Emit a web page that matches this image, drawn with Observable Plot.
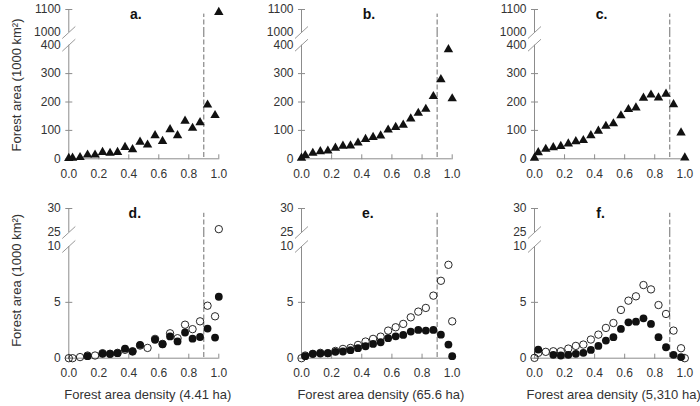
<!DOCTYPE html>
<html><head><meta charset="utf-8">
<script src="https://cdn.jsdelivr.net/npm/d3@7"></script>
<script src="https://cdn.jsdelivr.net/npm/@observablehq/plot@0.6"></script>
<style>
body{margin:0;background:#fff;}
#fig{position:relative;width:700px;height:406px;overflow:hidden;background:#fff;}
#fig svg{position:absolute;}
</style></head><body><div id="fig"></div>
<script>
// ---- data ----
const density = [0, 0.025, 0.075, 0.125, 0.175, 0.225, 0.275, 0.325, 0.375, 0.425, 0.475, 0.525, 0.575, 0.625, 0.675, 0.725, 0.775, 0.825, 0.875, 0.925, 0.975, 1.0];
const densityTicks = [0, 0.2, 0.4, 0.6, 0.8, 1.0];
const threshold = 0.9;

const areaA = [2, 3, 5, 14, 14, 23, 20, 23, 41, 33, 59, 49, 82, 62, 103, 82, 133, 108, 128, 190, 153, 1088];
const areaB = [3, 12, 20, 26, 28, 38, 45, 46, 56, 69, 76, 81, 102, 111, 119, 141, 161, 175, 220, 279, 385, 212];
const areaC = [3, 22, 34, 40, 44, 53, 61, 65, 82, 98, 115, 124, 152, 174, 180, 214, 225, 215, 228, 191, 92, 4];

const openD   = [0, 0, 0.1, 0.24, 0.24, 0.45, 0.4, 0.48, 0.75, 0.62, 1.13, 0.92, 1.73, 1.28, 2.23, 1.79, 3.0, 2.6, 3.3, 4.7, 3.75, 25.7];
const filledD = [null, null, null, 0.18, null, 0.4, 0.38, 0.45, 0.85, 0.6, 1.2, null, 1.65, 1.25, 1.95, 1.5, 2.3, 1.75, 1.9, 2.65, 1.85, 5.5];
const openE   = [0, 0.24, 0.39, 0.48, 0.45, 0.65, 0.83, 0.92, 1.19, 1.49, 1.73, 1.93, 2.47, 2.77, 3.07, 3.66, 4.17, 4.5, 5.6, 6.93, 8.36, 3.3];
const filledE = [null, 0.18, 0.39, 0.42, 0.45, 0.57, 0.6, 0.72, 0.9, 1.07, 1.28, 1.43, 1.79, 1.96, 2.08, 2.38, 2.53, 2.47, 2.53, 2.11, 1.22, 0.18];
const openF   = [0.03, 0.48, 0.57, 0.62, 0.62, 0.86, 1.1, 1.22, 1.67, 2.11, 2.71, 3.15, 4.32, 5.15, 5.54, 6.55, 6.16, 4.76, 3.96, 2.47, 0.89, 0];
const filledF = [null, 0.77, null, 0.3, 0.24, 0.3, 0.39, 0.48, 0.74, 1.1, 1.58, 1.88, 2.62, 3.21, 3.27, 3.57, 3.07, 1.88, 0.98, 0.3, 0.1, null];

const panelLetters = ["a.", "b.", "c.", "d.", "e.", "f."];
const xTitles = ["Forest area density (4.41 ha)", "Forest area density (65.6 ha)", "Forest area density (5,310 ha)"];
const yTitle = "Forest area (1000 km\u00B2)";

const topLowerTicks = [0, 100, 200, 300], topLowerBreak = 400;
const topUpperTicks = [1100], topUpperBreak = 1000;
const botLowerTicks = [0, 5], botLowerBreak = 10;
const botUpperTicks = [30], botUpperBreak = 25;
const dashTopValues = [1080, 29];

// ---- layout / style ----
const axisGray = "#8c8c8c", ink = "#333", dashGray = "#6e6e6e";
const cellLeft = [0, 233, 466], cellWidth = [233, 233, 234];
const frameLeft = [68.3, 301, 534], frameRight = [218.3, 451.7, 684.3];
const rowsLayout = [
  {top: 0, height: 190, lowRange: [158.3, 44.7], upRange: [32, 9]},
  {top: 190, height: 216, lowRange: [357.7, 246], upRange: [232, 208]}
];
const slash = {draw(ctx) { ctx.moveTo(-6.5, 6); ctx.lineTo(6.5, -6); }};
const style = {background: "transparent", overflow: "visible", fontFamily: "'Liberation Sans', Arial, sans-serif", fontSize: "12px", color: ink};

const fig = document.getElementById("fig");

function table(values) {
  return density.map((x, i) => ({density: x, area: values[i]})).filter(d => d.area != null);
}

function seriesMarks(series, keep) {
  const marks = [];
  for (const s of series) {
    const data = table(s.values).filter(keep);
    if (s.kind === "triangle") marks.push(Plot.dot(data, {x: "density", y: "area", symbol: "triangle", r: 3.5, fill: "#111", stroke: "none"}));
    if (s.kind === "open") marks.push(Plot.dot(data, {x: "density", y: "area", r: 3.7, fill: "none", stroke: "#111", strokeWidth: 0.9}));
    if (s.kind === "filled") marks.push(Plot.dot(data, {x: "density", y: "area", r: 3.9, fill: "#111", stroke: "none"}));
  }
  return marks;
}

function drawPanel(row, col, cfg) {
  const L = rowsLayout[row];
  const W = cellWidth[col];
  const ml = frameLeft[col] - cellLeft[col], mr = cellLeft[col] + W - frameRight[col];
  const base = {width: W, height: L.height, marginLeft: ml, marginRight: mr, style,
    x: {domain: [0, 1], axis: null, label: null}};
  const gap = L.lowRange[1] - L.upRange[0];

  const upper = Plot.plot({...base,
    marginTop: L.upRange[1] - L.top, marginBottom: L.top + L.height - L.upRange[0],
    y: {domain: cfg.upDomain, axis: null, label: null},
    marks: [
      Plot.ruleX([0], {stroke: axisGray, strokeWidth: 1}),
      Plot.axisY({ticks: cfg.upTicks, tickSize: 7, insetLeft: 4, tickPadding: 5, stroke: axisGray, fill: ink, label: null, tickFormat: d3.format("d")}),
      Plot.axisY({ticks: [cfg.upBreak], tickSize: 0, tickPadding: 8, fill: ink, label: null, tickFormat: d3.format("d")}),
      Plot.dot([cfg.upBreak], {x: () => 0, y: d => d, symbol: slash, fill: "none", stroke: axisGray, strokeWidth: 0.9}),
      Plot.ruleX([threshold], {y1: cfg.upDomain[0], y2: cfg.dashTop, stroke: dashGray, strokeDasharray: "5,2.5", strokeWidth: 1}),
      ...seriesMarks(cfg.series, d => d.area >= cfg.upDomain[0]),
      Plot.text([cfg.letter], {text: d => d, frameAnchor: "top", lineAnchor: "top", dx: row === 0 ? -8 : -9, fontWeight: "bold", fontSize: 14, fill: "#111"})
    ]
  });

  const lowerMarks = [
    Plot.ruleY([0], {stroke: axisGray, strokeWidth: 1}),
    Plot.ruleX([0], {stroke: axisGray, strokeWidth: 1}),
    Plot.axisY({ticks: cfg.lowTicks, tickSize: 7, insetLeft: 4, tickPadding: 5, stroke: axisGray, fill: ink, label: null, tickFormat: d3.format("d")}),
    Plot.axisY({ticks: [cfg.lowBreak], tickSize: 0, tickPadding: 8, fill: ink, label: null, tickFormat: d3.format("d")}),
    Plot.dot([cfg.lowBreak], {x: () => 0, y: d => d, symbol: slash, fill: "none", stroke: axisGray, strokeWidth: 0.9}),
    Plot.axisX({ticks: densityTicks, tickSize: 5, insetBottom: 4, tickPadding: 9.7, stroke: axisGray, fill: ink, label: null, tickFormat: d3.format(".1f")}),
    Plot.ruleX([threshold], {stroke: dashGray, strokeDasharray: "5,2.5", strokeWidth: 1, insetTop: -gap}),
    ...seriesMarks(cfg.series, d => d.area <= cfg.lowDomain[1])
  ];
  if (cfg.xTitle) lowerMarks.push(Plot.text([cfg.xTitle], {text: d => d, frameAnchor: "bottom", lineAnchor: "middle", dy: 37, dx: 4, fontSize: 13, fill: ink}));
  if (cfg.yTitle) lowerMarks.push(Plot.text([cfg.yTitle], {text: d => d, frameAnchor: "left", lineAnchor: "middle", textAnchor: "middle", rotate: -90, dx: -52, dy: cfg.yTitleDy, fontSize: 13, fill: ink}));

  const lower = Plot.plot({...base,
    marginTop: L.lowRange[1] - L.top, marginBottom: L.top + L.height - L.lowRange[0],
    y: {domain: cfg.lowDomain, axis: null, label: null},
    marks: lowerMarks
  });

  for (const svg of [lower, upper]) {
    svg.style.left = cellLeft[col] + "px";
    svg.style.top = L.top + "px";
    fig.appendChild(svg);
  }
}

const topSeries = [[{values: areaA, kind: "triangle"}], [{values: areaB, kind: "triangle"}], [{values: areaC, kind: "triangle"}]];
const botSeries = [
  [{values: openD, kind: "open"}, {values: filledD, kind: "filled"}],
  [{values: openE, kind: "open"}, {values: filledE, kind: "filled"}],
  [{values: openF, kind: "open"}, {values: filledF, kind: "filled"}]
];

for (let c = 0; c < 3; c++) {
  drawPanel(0, c, {
    series: topSeries[c], letter: panelLetters[c],
    lowDomain: [0, topLowerBreak], lowTicks: topLowerTicks, lowBreak: topLowerBreak,
    upDomain: [topUpperBreak, 1100], upTicks: topUpperTicks, upBreak: topUpperBreak,
    dashTop: dashTopValues[0], yTitle: c === 0 ? yTitle : null, yTitleDy: -17
  });
  drawPanel(1, c, {
    series: botSeries[c], letter: panelLetters[c + 3],
    lowDomain: [0, botLowerBreak], lowTicks: botLowerTicks, lowBreak: botLowerBreak,
    upDomain: [botUpperBreak, 30], upTicks: botUpperTicks, upBreak: botUpperBreak,
    dashTop: dashTopValues[1], yTitle: c === 0 ? yTitle : null, yTitleDy: -22,
    xTitle: xTitles[c]
  });
}
</script></body></html>
